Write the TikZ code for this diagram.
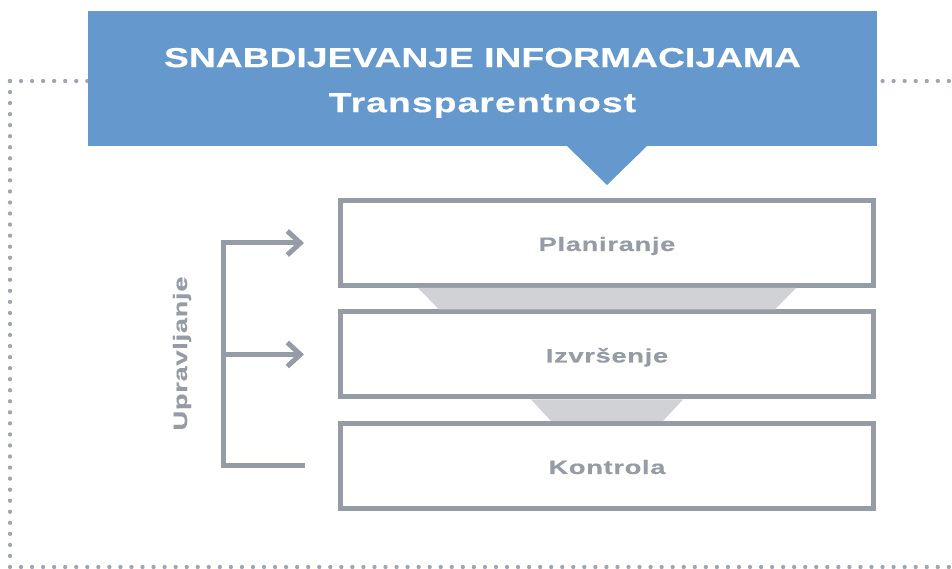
\documentclass[tikz,border=0pt]{standalone}
\usepackage{fontspec}
\setmainfont{Liberation Sans}
\usetikzlibrary{positioning}
\usetikzlibrary{calc}
\usetikzlibrary{arrows.meta}
\definecolor{infoblue}{RGB}{101,153,205}
\definecolor{framegray}{RGB}{150,156,166}
\definecolor{funnelgray}{RGB}{208,210,213}

\begin{document}
\begin{tikzpicture}[x=1pt, y=1pt,
titlebox/.style={fill=infoblue, text=white, minimum width=789pt, minimum height=135pt, inner sep=0pt, outer sep=0pt, align=center, font=\fontsize{27.5}{45}\selectfont\bfseries\addfontfeatures{FakeStretch=1.355,FakeBold=0.3}},
stagebox/.style={draw=framegray, line width=5pt, fill=white, minimum width=533pt, minimum height=85pt, text height=16pt, text depth=0pt, text=framegray, font=\fontsize{19.5}{24}\selectfont\bfseries\addfontfeatures{FakeStretch=1.4,LetterSpace=3.5,FakeBold=0.3}},
sidelabel/.style={text=framegray, font=\fontsize{19.5}{24}\selectfont\bfseries\addfontfeatures{FakeStretch=1.4,LetterSpace=3.5,FakeBold=0.3}},
bracket/.style={draw=framegray, line width=5pt},
framedots/.style={draw=framegray!90, line width=4.3pt, line cap=round, dash pattern=on 0pt off 11.045pt}]
\useasboundingbox (0,0) rectangle (952,569);

% dotted frame
\draw[framedots] (10,488) -- (952,488);
\draw[framedots] (10,488) -- (10,2) -- (952,2);

\node[titlebox] (title) at (482.5,490.5) {\rule{0pt}{28pt}SNABDIJEVANJE INFORMACIJAMA\\{\addfontfeatures{LetterSpace=4}Transparentnost}};
\node[stagebox] (plan) at (607,326) {Planiranje};
\node[stagebox] (exec) [below=21.5pt of plan] {Izvršenje};
\node[stagebox] (ctrl) [below=21.5pt of exec] {Kontrola};

\fill[infoblue] ($(title.south -| plan.north)+(-40,0)$) -- ($(title.south -| plan.north)+(40,0)$) -- ($(plan.north)+(0,13)$) -- cycle;
\fill[funnelgray] ($(plan.south)+(-189,0)$) -- ($(plan.south)+(189,0)$) -- ($(exec.north)+(168,0)$) -- ($(exec.north)+(-168,0)$) -- cycle;
\fill[funnelgray] ($(exec.south)+(-76,0)$) -- ($(exec.south)+(76,0)$) -- ($(ctrl.north)+(56,0)$) -- ($(ctrl.north)+(-56,0)$) -- cycle;

\coordinate (spine) at (223,0);
\coordinate (planin) at ($(plan.west)+(-34,0)$);
\coordinate (execin) at ($(exec.west)+(-34,0)$);
\coordinate (ctrlin) at ($(ctrl.west)+(-33,0)$);
\draw[bracket, -{Straight Barb[length=13pt, width=24pt, sharp]}] (ctrlin) -- (ctrlin -| spine) -- (planin -| spine) -- (planin);
\draw[bracket, -{Straight Barb[length=13pt, width=24pt, sharp]}] (execin -| spine) -- (execin);

\node[sidelabel, rotate=90] (manage) at ($(spine |- exec.west)+(-41,1)$) {Upravljanje};
\end{tikzpicture}
\end{document}
